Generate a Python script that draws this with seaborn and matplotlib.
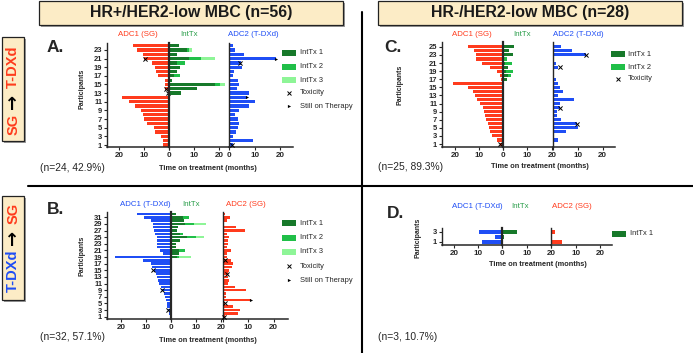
import numpy as np
import pandas as pd
import matplotlib
matplotlib.use("Agg")
import matplotlib.pyplot as plt
import seaborn as sns
from matplotlib.patches import Rectangle
from matplotlib.lines import Line2D
from matplotlib import font_manager

# ---------------- data (months) ----------------
# Panel A: HR+/HER2-low, SG -> T-DXd (n=24)
A_adc1 = [2.5, 2.6, 3.4, 5.8, 6.0, 9.0, 10.1, 10.6, 11.5, 13.6, 16.0, 19.0,
          0.6, 1.6, 1.6, 1.7, 4.4, 5.2, 5.8, 7.0, 10.1, 10.4, 12.9, 14.3]
A_int1 = [0, 0, 0, 0, 0, 0, 0, 0, 0, 0, 0, 0,
          4.6, 11.0, 18.3, 1.1, 1.7, 3.1, 4.2, 3.1, 7.8, 3.1, 7.1, 3.7]
A_int2 = [0, 0, 0, 0, 0, 0, 0, 0, 0, 0, 0, 0,
          0, 0, 1.8, 0, 2.5, 0, 0, 3.1, 4.9, 0, 0.6, 0]
A_int3 = [0, 0, 0, 0, 0, 0, 0, 0, 0, 0, 0, 0,
          0, 0, 2.3, 0, 0, 0, 0, 0, 5.5, 0, 1.3, 0]
A_adc2 = [1.6, 9.2, 1.3, 2.6, 3.5, 3.8, 3.3, 2.2, 3.9, 7.8, 10.1, 6.8,
          7.8, 2.9, 3.8, 3.5, 1.5, 2.0, 5.0, 4.6, 18.3, 5.8, 2.1, 1.6]
A_tox1_p = [21, 14, 13]
A_tox1_t = [9.6, 1.5, 0.6]
A_tox2_p = [20, 1]
A_tox2_t = [4.2, 0.9]
A_sot2_p = [21, 12]
A_sot2_t = [18.3, 6.8]

# Panel B: HR+/HER2-low, T-DXd -> SG (n=32)
B_adc1 = [0.4, 0.7, 1.1, 1.4, 1.7, 2.0, 2.4, 2.9, 3.7, 4.1, 4.6, 5.1, 5.6, 6.1,
          6.9, 7.4, 8.0, 11.1, 22.4, 3.0, 4.5, 5.5, 5.5, 5.6, 5.7, 6.3, 6.8,
          7.0, 7.2, 8.1, 10.8, 13.7]
B_int1 = [0] * 18 + [2.3, 3.1, 3.3, 2.0, 2.0, 3.6, 6.3, 3.6, 2.2, 2.8, 5.5,
                     5.0, 4.6, 2.0]
B_int2 = [0] * 18 + [0.7, 0, 2.3, 0, 0, 0, 3.7, 1.3, 0, 0, 3.7, 0, 2.7, 0]
B_int3 = [0] * 18 + [4.9, 0, 0, 0, 0, 0, 3.2, 0, 0, 0, 4.7, 0, 0, 0]
B_adc2 = [0.6, 6.0, 6.8, 3.8, 0.8, 10.9, 1.1, 1.1, 9.2, 4.6, 1.8, 2.2, 2.0,
          1.8, 2.2, 3.3, 3.8, 2.9, 1.3, 1.3, 3.1, 1.3, 1.8, 2.0, 2.1, 1.4,
          8.8, 4.9, 0.3, 1.6, 2.7, 0.7]
B_tox1_p = [15, 9, 3]
B_tox1_t = [7.1, 3.5, 1.0]
B_tox2_p = [18, 14, 5, 1]
B_tox2_t = [0.7, 1.4, 0.5, 0.4]
B_sot2_p = [6]
B_sot2_t = [10.9]

# Panel C: HR-/HER2-low, SG -> T-DXd (n=25)
C_adc1 = [1.3, 2.6, 4.6, 5.3, 5.8, 6.0, 6.8, 7.5, 7.7, 8.1, 9.5, 10.9, 11.6,
          12.4, 14.7, 20.8, 0.6, 1.1, 2.5, 5.5, 8.5, 11.0, 11.2, 12.1, 14.4]
C_int1 = [0] * 16 + [1.7, 2.0, 1.2, 2.3, 1.0, 0.5, 4.3, 2.7, 4.6]
C_int2 = [0] * 16 + [0, 1.5, 2.8, 0, 2.6, 1.3, 0, 0, 0]
C_adc2 = [0.5, 2.3, 0.5, 5.4, 10.1, 9.8, 3.4, 1.8, 1.9, 2.9, 2.8, 8.7, 2.2,
          4.0, 2.8, 2.0, 1.3, 0.6, 0.6, 2.3, 1.3, 0.0, 13.2, 7.6, 3.3]
C_tox1_p = [1]
C_tox1_t = [1.2]
C_tox2_p = [23, 20, 10, 6]
C_tox2_t = [13.2, 2.9, 2.9, 9.8]

# Panel D: HR-/HER2-low, T-DXd -> SG (n=3)
D_adc1 = [8.3, 3.0, 9.7]
D_int1 = [0, 0.7, 5.8]
D_adc2 = [4.5, 0.0, 1.5]

# ---------------- style ----------------
sns.set_style("ticks")
plt.rcParams["font.family"] = ["Liberation Sans", "DejaVu Sans"]
plt.rcParams["axes.linewidth"] = 1.0

RED = "#ff3b1d"
BLUE = "#1f4ef5"
G1 = "#17792a"
G2 = "#20bf48"
G3 = "#8ef597"
GT = "#2a9e4a"
BOXFILL = "#fcecc6"

W, H = 693, 353
fig = plt.figure(figsize=(6.93, 3.53), dpi=100)


def fx(x):
    return x / W


def fy(y):
    return 1 - y / H


def add_ax(x0, x1, y0, y1):
    ax = fig.add_axes([x0 / W, 1 - y1 / H, (x1 - x0) / W, (y1 - y0) / H])
    ax.patch.set_alpha(0)
    return ax


def bars(ax, vals, color):
    p = np.arange(1, len(vals) + 1)
    df = pd.DataFrame({"participant": p, "months": np.asarray(vals, float)})
    sns.barplot(data=df, x="months", y="participant", orient="y",
                native_scale=True, color=color, saturation=1, width=0.76,
                errorbar=None, linewidth=0, ax=ax)


def marks(ax, ps, ts, kind):
    if kind == "tox":
        ax.scatter(ts, ps, marker="x", s=9, c="k", linewidths=0.7,
                   zorder=6, clip_on=False)
    else:
        ax.scatter(ts, ps, marker=">", s=5, c="k", linewidths=0,
                   zorder=6, clip_on=False)


TICK_FS = 5.8


def panel(geo, n, adc1, ints, adc2, int_colors, c1, c2,
          tox1=None, tox2=None, sot2=None, yt_step=2, show_r0=False):
    (l0, l1), (m0, m1), (r0, r1), (yt, yb), (Lm, Mm, Rm), ylim = geo
    axL = add_ax(l0, l1, yt, yb)
    axM = add_ax(m0, m1, yt, yb)
    axR = add_ax(r0, r1, yt, yb)

    bars(axL, adc1, c1)
    # stacked intervening therapies (drawn as overlapping cumulative bars)
    cum = np.zeros(n)
    cums = []
    for v in ints:
        cum = cum + np.asarray(v, float)
        cums.append(cum.copy())
    for cv, col in reversed(list(zip(cums, int_colors))):
        bars(axM, cv, col)
    bars(axR, adc2, c2)

    if tox1:
        marks(axL, tox1[0], tox1[1], "tox")
    if tox2:
        marks(axR, tox2[0], tox2[1], "tox")
    if sot2:
        marks(axR, sot2[0], sot2[1], "sot")

    axL.set_xlim(Lm, 0)
    axM.set_xlim(0, Mm)
    axR.set_xlim(0, Rm)
    for ax in (axL, axM, axR):
        ax.set_ylim(*ylim)
        ax.set_xlabel("")
        ax.set_ylabel("")
        ax.spines["top"].set_visible(False)
        ax.spines["right"].set_visible(False)
        ax.spines["bottom"].set_linewidth(1.1)
        ax.tick_params(axis="x", direction="out", length=2.2, width=0.8,
                       pad=1.2, labelsize=TICK_FS)
        ax.set_xticks([0, 10, 20])
    axL.spines["left"].set_linewidth(1.0)
    axM.spines["left"].set_linewidth(1.6)
    axR.spines["left"].set_linewidth(1.0)

    yt_vals = list(range(1, n + 1, yt_step))
    axL.set_yticks(yt_vals)
    axL.set_yticklabels([str(v) for v in yt_vals], fontsize=5.4,
                        fontweight="bold")
    axL.tick_params(axis="y", direction="out", length=2.2, width=0.8, pad=1.0)
    for ax in (axM, axR):
        ax.set_yticks([])
    axL.set_xticklabels(["0", "10", "20"], fontweight="bold")
    axM.set_xticklabels(["", "10", "20"], fontweight="bold")
    axR.set_xticklabels(["0" if show_r0 else "", "10", "20"],
                        fontweight="bold")
    return axL, axM, axR


# ---------------- panels ----------------
geoA = ((106.7, 169.3), (169.3, 229.3), (229.3, 292.7), (43, 147.3),
        (25, 24, 25), (0.47, 24.6))
panel(geoA, 24, A_adc1, [A_int1, A_int2, A_int3], A_adc2, [G1, G2, G3],
      RED, BLUE, tox1=(A_tox1_p, A_tox1_t), tox2=(A_tox2_p, A_tox2_t),
      sot2=(A_sot2_p, A_sot2_t), show_r0=True)

geoB = ((106.7, 171), (171, 223.3), (223.3, 288), (212, 319),
        (25.7, 20.9, 25.7), (0.3, 32.6))
panel(geoB, 32, B_adc1, [B_int1, B_int2, B_int3], B_adc2, [G1, G2, G3],
      BLUE, RED, tox1=(B_tox1_p, B_tox1_t), tox2=(B_tox2_p, B_tox2_t),
      sot2=(B_sot2_p, B_sot2_t))

geoC = ((441.7, 502.7), (502.7, 552.7), (552.7, 615), (42, 147.3),
        (25.6, 20.3, 25), (0.2, 26.2))
panel(geoC, 25, C_adc1, [C_int1, C_int2], C_adc2, [G1, G2],
      RED, BLUE, tox1=(C_tox1_p, C_tox1_t), tox2=(C_tox2_p, C_tox2_t))

geoD = ((441.7, 502.3), (502.3, 551.3), (551.3, 611.7), (227.7, 245.3),
        (25.2, 20, 24.6), (0.28, 3.8))
panel(geoD, 3, D_adc1, [D_int1], D_adc2, [G1], BLUE, RED)


# ---------------- texts ----------------
def T(x, y, s, **kw):
    kw.setdefault("ha", "center")
    kw.setdefault("va", "center")
    fig.text(fx(x), fy(y), s, **kw)


TITLE_FS = 5.7
# column titles
for (x1, x2, x3, y, a1, a2, col1, col2) in [
        (138, 189, 253.5, 35, "ADC1 (SG)", "ADC2 (T-DXd)", RED, BLUE),
        (145.5, 191, 245.5, 205, "ADC1 (T-DXd)", "ADC2 (SG)", BLUE, RED),
        (472, 522, 578, 35, "ADC1 (SG)", "ADC2 (T-DXd)", RED, BLUE),
        (477.5, 520.5, 571.5, 207, "ADC1 (T-DXd)", "ADC2 (SG)", BLUE, RED)]:
    T(x1, y, a1, color=col1, fontsize=TITLE_FS)
    T(x2, y, "IntTx", color=GT, fontsize=TITLE_FS)
    T(x3, y, a2, color=col2, fontsize=TITLE_FS)

# panel letters
for (x, y, s) in [(47, 47, "A."), (47, 210, "B."), (384, 48, "C."),
                  (387, 213, "D.")]:
    T(x, y, s, ha="left", fontsize=12.5, fontweight="bold")

# axis labels
for (x, y) in [(82, 89), (82, 256), (400, 85), (418, 237.5)]:
    T(x, y, "Participants", rotation=90, fontsize=5.0, fontweight="bold")
for (x, y) in [(207.5, 168.7), (207.5, 340), (539.7, 166.7), (538.3, 265)]:
    T(x, y, "Time on treatment (months)", fontsize=5.3, fontweight="bold")

# n annotations
for (x, y, s) in [(40, 168, "(n=24, 42.9%)"), (40, 337, "(n=32, 57.1%)"),
                  (378, 167.5, "(n=25, 89.3%)"), (378, 337, "(n=3, 10.7%)")]:
    T(x, y, s, ha="left", fontsize=7.4)


# legends
def legend(x_patch, x_text, rows):
    for (y, kind, label) in rows:
        if kind in (G1, G2, G3):
            fig.add_artist(Rectangle((fx(x_patch), fy(y + 3)), 14 / W, 6 / H,
                                     transform=fig.transFigure,
                                     facecolor=kind, edgecolor="none"))
        elif kind == "tox":
            fig.add_artist(Line2D([fx(x_patch + 7)], [fy(y)], marker="x",
                                  markersize=3.2, color="k", mew=0.7,
                                  transform=fig.transFigure, linestyle=""))
        else:
            fig.add_artist(Line2D([fx(x_patch + 7)], [fy(y)], marker=">",
                                  markersize=2.3, color="k", mew=0,
                                  transform=fig.transFigure, linestyle=""))
        T(x_text, y, label, ha="left", fontsize=5.4)


legend(282, 300, [(53, G1, "IntTx 1"), (66.5, G2, "IntTx 2"),
                  (80, G3, "IntTx 3"), (93, "tox", "Toxicity"),
                  (106, "sot", "Still on Therapy")])
legend(282, 300, [(223.3, G1, "IntTx 1"), (237.7, G2, "IntTx 2"),
                  (251.7, G3, "IntTx 3"), (266, "tox", "Toxicity"),
                  (280, "sot", "Still on Therapy")])
legend(611, 628, [(54, G1, "IntTx 1"), (67.3, G2, "IntTx 2"),
                  (79, "tox", "Toxicity")])
legend(612, 630, [(233.7, G1, "IntTx 1")])


# header boxes
def box(x0, y0, x1, y1):
    fig.add_artist(Rectangle((fx(x0 + 2), fy(y1 + 2)), (x1 - x0) / W,
                             (y1 - y0) / H, transform=fig.transFigure,
                             facecolor="#9c9c9c", edgecolor="none"))
    fig.add_artist(Rectangle((fx(x0), fy(y1)), (x1 - x0) / W, (y1 - y0) / H,
                             transform=fig.transFigure, facecolor=BOXFILL,
                             edgecolor="#222222", linewidth=0.9))


names = {f.name for f in font_manager.fontManager.ttflist}
if "Liberation Sans Narrow" in names:
    HFAM, HFS = ["Liberation Sans Narrow", "Liberation Sans"], 14
else:
    HFAM, HFS = ["Liberation Sans", "DejaVu Sans"], 11.4

box(39, 0.5, 343, 24.5)
box(378, 0.5, 682, 24.5)
T(191, 13, "HR+/HER2-low MBC (n=56)", fontsize=HFS, fontweight="bold",
  family=HFAM, color="#1a1a1a")
T(530, 13, "HR-/HER2-low MBC (n=28)", fontsize=HFS, fontweight="bold",
  family=HFAM, color="#1a1a1a")

# side boxes
box(2, 37, 24.5, 141)
box(2, 196, 24.5, 300)
VFS = 10.5
AFS = 13
T(13.3, 124, "SG", rotation=90, color=RED, fontsize=VFS, fontweight="bold")
T(13.3, 101, "\u2192", rotation=90, color="k", fontsize=AFS,
  fontweight="bold", family=["DejaVu Sans"])
T(13.3, 67, "T-DXd", rotation=90, color=RED, fontsize=VFS, fontweight="bold")
T(13.3, 271, "T-DXd", rotation=90, color=BLUE, fontsize=VFS,
  fontweight="bold")
T(13.3, 237, "\u2192", rotation=90, color="k", fontsize=AFS,
  fontweight="bold", family=["DejaVu Sans"])
T(13.3, 213, "SG", rotation=90, color=RED, fontsize=VFS, fontweight="bold")

# dividers
fig.add_artist(Line2D([fx(362), fx(362)], [fy(12), fy(353)], color="k",
                      linewidth=1.5, transform=fig.transFigure))
fig.add_artist(Line2D([fx(28), fx(693)], [fy(186.5), fy(186.5)], color="k",
                      linewidth=1.5, transform=fig.transFigure))

fig.savefig("out.png", dpi=100)
